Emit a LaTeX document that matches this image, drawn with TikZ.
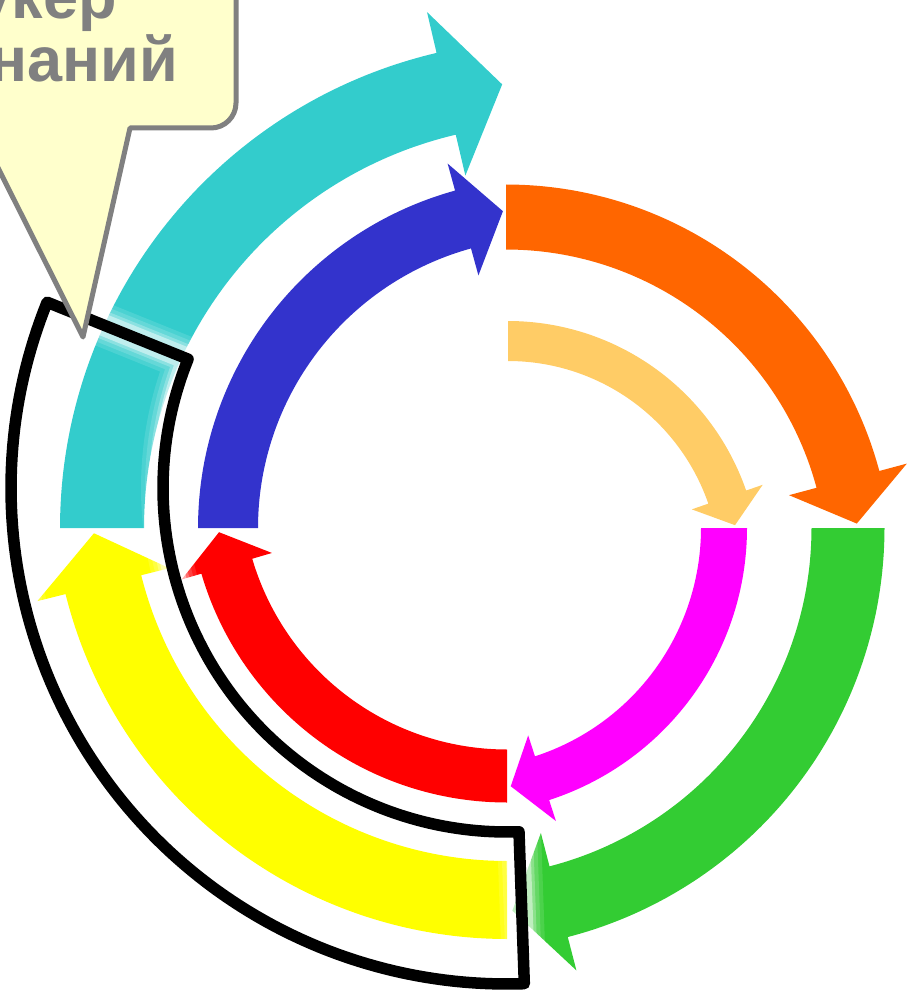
\documentclass[tikz,border=0pt]{standalone}
\usepackage{fontspec}
\setmainfont{Liberation Sans}
\definecolor{cyanA}{HTML}{33CCCC}
\definecolor{blueA}{HTML}{3333CC}
\definecolor{orangeA}{HTML}{FF6600}
\definecolor{lorangeA}{HTML}{FFCC66}
\definecolor{greenA}{HTML}{33CC33}
\definecolor{magentaA}{HTML}{FF00FF}
\definecolor{yellowA}{HTML}{FFFF00}
\definecolor{redA}{HTML}{FF0000}
\definecolor{calfill}{HTML}{FFFFCC}
\definecolor{calgray}{HTML}{808080}
% #1 cx, #2 cy, #3 r, #4 half width, #5 start angle, #6 head base angle, #7 tip angle, #8 head half width, #9 colour
\newcommand\myarrow[9]{%
  \fill[#9] plot[domain=#5:#6,samples=90] ({#1+(#3+#4)*cos(\x)},{#2+(#3+#4)*sin(\x)})
    -- ({#1+(#3+#8)*cos(#6)},{#2+(#3+#8)*sin(#6)})
    -- ({#1+#3*cos(#7)},{#2+#3*sin(#7)})
    -- ({#1+(#3-#8)*cos(#6)},{#2+(#3-#8)*sin(#6)})
    -- plot[domain=#6:#5,samples=90] ({#1+(#3-#4)*cos(\x)},{#2+(#3-#4)*sin(\x)})
    -- cycle;}
\tikzset{captext/.style={anchor=base east,inner sep=0pt,text=calgray,font=\bfseries\fontsize{63}{65}\selectfont}}
\begin{document}
\begin{tikzpicture}[x=1pt,y=-1pt]
\useasboundingbox (0,0) rectangle (908,992);
\clip (0,0) rectangle (908,992);
% outer ring
\myarrow{548}{528}{446}{42}{180}{256.8}{264.1}{84}{cyanA}
\myarrow{462}{528}{386}{36.5}{0}{75.5}{82.5}{71}{greenA}
\myarrow{507}{484}{416}{39}{90}{166}{173.2}{68}{yellowA}
% middle ring
\myarrow{548}{528}{320}{30}{180}{254.6}{261.9}{58}{blueA}
\myarrow{506}{571}{354}{32.5}{270}{345}{352.3}{61}{orangeA}
\myarrow{507}{484}{292}{26.5}{90}{163.65}{170.5}{47}{redA}
% inner ring
\myarrow{508}{573}{232}{20}{270}{340.9}{348.1}{37.5}{lorangeA}
\myarrow{461}{528}{263}{23}{0}{72.05}{79.1}{45}{magentaA}
% glow of the outline
\foreach \wd/\op in {44/0.12,36/0.15,28/0.25,22/0.45}{
  \draw[white,line width=\wd pt,opacity=\op,line join=round]
    plot[domain=88:202,samples=100] ({507+496*cos(\x)},{488+496*sin(\x)})
    -- plot[domain=202:88,samples=100] ({507+344*cos(\x)},{488+344*sin(\x)}) -- cycle;
}
% black outline
\draw[black,line width=11.5pt,line join=round]
  plot[domain=88:202,samples=100] ({507+496*cos(\x)},{488+496*sin(\x)})
  -- plot[domain=202:88,samples=100] ({507+344*cos(\x)},{488+344*sin(\x)}) -- cycle;
% callout
\filldraw[fill=calfill,draw=calgray,line width=5pt,line join=round]
  (-300,-300) -- (236,-300) -- (236,103) .. controls (236,116.8) and (224.8,128) .. (211,128)
  -- (130,128) -- (83,337) -- (-22,128) -- (-300,128) -- cycle;
\node[captext] (t1) at (117,19) {укер};
\node[captext] (t2) at (178,82) {знаний};
\end{tikzpicture}
\end{document}
